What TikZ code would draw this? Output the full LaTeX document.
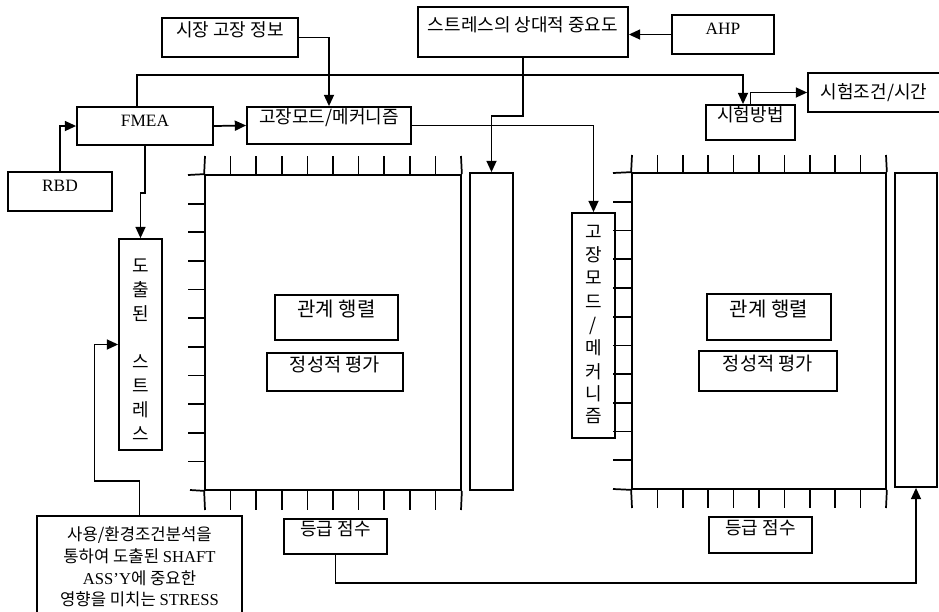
\documentclass[tikz,border=0pt]{standalone}
\usepackage{fontspec}
\setmainfont{Liberation Serif}
\newfontfamily\kr{Noto Sans CJK KR}
\usetikzlibrary{fit,arrows.meta}
\begin{document}
\begin{tikzpicture}[x=0.75pt,y=-0.75pt,line width=1.3pt,
  box/.style={draw,inner sep=0pt,line width=1.3pt,align=center,font=\kr\fontsize{13.5}{15}\selectfont},
  latin/.style={font=\rmfamily\fontsize{13}{15}\selectfont},
  arr/.style={-{Triangle[length=8.5pt,width=7.5pt]},line width=1.3pt},
  vt/.style={inner sep=0pt,font=\kr\fontsize{13.5}{15}\selectfont}]
\useasboundingbox (0,0) rectangle (939,611);

% top boxes
\node[box,fit={(162,18) (298,57)}] (market) {시장 고장 정보};
\node[box,fit={(418,7) (628,57)}] (stress) {스트레스의 상대적 중요도};
\node[box,latin,fit={(672,15) (774,54)}] (ahp) {AHP};
\node[box,fit={(706,105) (795,140)}] (method) {시험방법};
\node[box,fit={(808,73) (952,112)}] (cond) {};
\node[vt] (condtxt) at (874,92.5) {시험조건/시간};
\node[box,latin,fit={(77,107) (213,145)}] (fmea) {FMEA};
\node[box,fit={(247,107) (411,144)}] (fmode) {고장모드/메커니즘};
\node[box,latin,fit={(8,172) (112,211)}] (rbd) {RBD};

% derived stress (vertical)
\node[box,fit={(119,239) (162,450)}] (derived) {};
\node[vt] (d1) at (140.5,266) {도};
\node[vt] (d2) at (140.5,290) {출};
\node[vt] (d3) at (140.5,314) {된};
\node[vt] (d4) at (140.5,362) {스};
\node[vt] (d5) at (140.5,386) {트};
\node[vt] (d6) at (140.5,410) {레};
\node[vt] (d7) at (140.5,434) {스};

% bottom-left note
\node[box,fit={(37,516) (242,614)}] (usage) {};
\node[inner sep=0pt,align=center,font=\kr\fontsize{12.5}{16.2}\selectfont] (usagetxt) at (139.5,567)
  {사용/환경조건분석을\\통하여 도출된 {\rmfamily SHAFT}\\{\rmfamily ASS’Y}에 중요한\\영향을 미치는 {\rmfamily STRESS}};

% matrix 1
\node[draw,inner sep=0pt,fit={(205,175) (461,490)}] (mat1) {};
\draw (188,175) -- (mat1.north west);
\draw (190,490) -- (mat1.south west);
\draw (205,156) -- (mat1.north west);
\draw (mat1.south west) -- (205,510);
\draw (461,156) -- (mat1.north east);
\draw (mat1.south east) -- (461,510);
\foreach \i in {1,...,9} {
  \draw (205+25.6*\i,156) -- (205+25.6*\i,175);
  \draw (205+25.6*\i,490) -- (205+25.6*\i,510);
}
\foreach \j in {1,...,10} \draw (188,175+28.64*\j) -- (205,175+28.64*\j);
\node[box,fit={(275,295) (398,340)},font=\kr\fontsize{15}{17}\selectfont] (rel1) {관계 행렬};
\node[box,fit={(267,353) (403,391)},font=\kr\fontsize{14}{16}\selectfont] (qual1) {정성적 평가};
\node[box,fit={(470,173) (513,490)}] (col1) {};
\node[box,fit={(284,519) (387,554)}] (grade1) {등급 점수};

% failure mode vertical box
\node[box,fit={(572,213) (615,438)}] (fmodev) {};
\node[vt] (f1) at (593.5,232) {고};
\node[vt] (f2) at (593.5,255) {장};
\node[vt] (f3) at (593.5,278) {모};
\node[vt] (f4) at (593.5,302) {드};
\node[vt] (f5) at (593.5,326) {/};
\node[vt] (f6) at (593.5,348) {메};
\node[vt] (f7) at (593.5,372) {커};
\node[vt] (f8) at (593.5,394) {니};
\node[vt] (f9) at (593.5,416) {즘};

% matrix 2
\node[draw,inner sep=0pt,fit={(632,173) (886,489)}] (mat2) {};
\draw (613,173) -- (mat2.north west);
\draw (613,489) -- (mat2.south west);
\draw (632,155) -- (mat2.north west);
\draw (mat2.south west) -- (632,508);
\draw (886,155) -- (mat2.north east);
\draw (mat2.south east) -- (886,508);
\foreach \i in {1,...,9} {
  \draw (632+25.4*\i,155) -- (632+25.4*\i,173);
  \draw (632+25.4*\i,489) -- (632+25.4*\i,508);
}
\foreach \j in {1,...,10} \draw (613,173+28.73*\j) -- (632,173+28.73*\j);
\node[box,fit={(707,294) (831,340)},font=\kr\fontsize{15}{17}\selectfont] (rel2) {관계 행렬};
\node[box,fit={(699,351) (837,391)},font=\kr\fontsize{14}{16}\selectfont] (qual2) {정성적 평가};
\node[box,fit={(895,173) (937,487)}] (col2) {};
\node[box,fit={(709,517) (812,553)}] (grade2) {등급 점수};

% connectors
\coordinate (c1) at (743,75);
\draw[arr] (market.east) -| (fmode.north);
\draw[arr] (fmea.east) -- (fmode.west);
\draw[arr] (rbd.north) |- (fmea.west);
\draw[arr] ([xshift=-6pt]fmea.north) |- (c1) -- (c1 |- method.north);
\draw[arr] (method.north) |- (cond.west);
\draw[arr] (ahp.west) -- (ahp.west -| stress.east);
\draw[arr] (stress.south) -- ++(0,58) -| (col1.north);
\draw[arr] (fmode.east) -| (fmodev.north);
\draw[arr] (fmea.south) -- ++(0,47) -| (derived.north);
\draw[arr] (usage.north) -- ++(0,-34) -- ++(-45,0) |- (derived.west);
\draw[arr] (grade1.south) -- ++(0,28) -| (col2.south);
\end{tikzpicture}
\end{document}
